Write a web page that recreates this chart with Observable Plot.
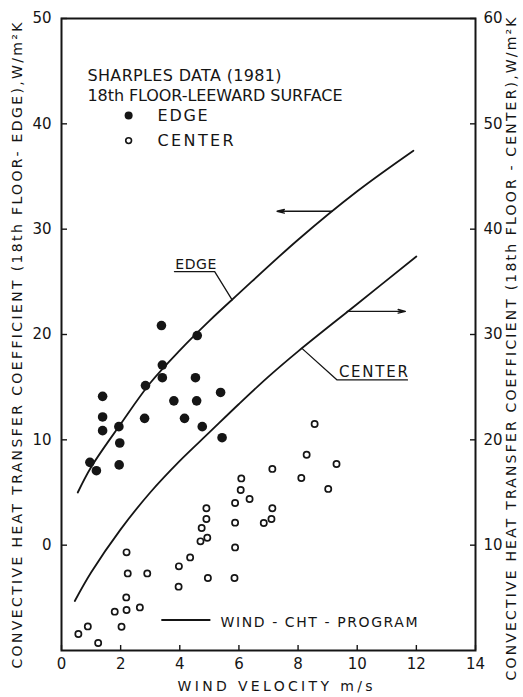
<!DOCTYPE html>
<html>
<head>
<meta charset="utf-8">
<script src="https://cdn.jsdelivr.net/npm/d3@7"></script>
<script src="https://cdn.jsdelivr.net/npm/@observablehq/plot@0.6"></script>
<style>
  html, body { margin: 0; padding: 0; background: #fff; }
</style>
</head>
<body>
<div id="chart"></div>
<script>
// ---------- data ----------
// Measured points, EDGE (left axis, W/m²K)
const edgeVelocity    = [3.38, 4.59, 3.41, 3.41, 2.84, 4.53, 1.39, 3.80, 4.57, 5.38, 1.39, 2.81, 4.16, 1.94, 1.39, 4.76, 1.97, 5.43, 0.96, 1.18, 1.95];
const edgeCoefficient = [20.85, 19.9, 17.1, 15.9, 15.15, 15.9, 14.13, 13.7, 13.7, 14.5, 12.17, 12.04, 12.04, 11.25, 10.87, 11.25, 9.7, 10.2, 7.86, 7.07, 7.62];

// Measured points, CENTER (right axis, W/m²K)
const centerVelocity    = [6.08, 6.06, 6.36, 5.87, 4.90, 4.90, 4.74, 4.93, 4.70, 5.87, 5.87, 4.35, 3.97, 4.95, 5.85, 3.96, 2.20, 2.24, 2.90, 2.19, 2.65, 2.20, 1.80, 2.03, 0.89, 0.57, 1.24, 8.56, 8.29, 9.30, 7.13, 8.11, 9.02, 7.13, 7.10, 6.84];
const centerCoefficient = [16.34, 15.24, 14.38, 14.0, 13.5, 12.49, 11.63, 10.71, 10.36, 12.14, 9.79, 8.84, 7.99, 6.89, 6.89, 6.06, 9.32, 7.32, 7.32, 5.04, 4.09, 3.85, 3.69, 2.26, 2.29, 1.57, 0.71, 21.51, 18.59, 17.71, 17.24, 16.38, 15.34, 13.5, 12.49, 12.11];

// WIND-CHT-PROGRAM curves
const edgeProgramVelocity    = [0.55, 1, 2, 3, 4, 5, 6, 8, 10, 11.9];
const edgeProgramCoefficient = [5.0, 7.4, 11.5, 15.4, 18.5, 21.3, 23.9, 29.0, 33.6, 37.45];
const centerProgramVelocity    = [0.45, 1, 2, 3, 4, 5, 6, 7, 8, 10, 12];
const centerProgramCoefficient = [4.7, 7.4, 11.5, 15.0, 18.0, 20.7, 23.4, 26.0, 28.4, 32.9, 37.4];

// Axes
const xTicks = [0, 2, 4, 6, 8, 10, 12, 14];
const leftTicks = [0, 10, 20, 30, 40, 50];
const rightTicks = [10, 20, 30, 40, 50, 60];
const rightAxisOffset = 10; // right axis value = left axis value + 10

// Texts
const xTitle = "WIND VELOCITY m/s";
const leftTitle = "CONVECTIVE HEAT TRANSFER COEFFICIENT (18th FLOOR- EDGE),W/m²K";
const rightTitle = "CONVECTIVE HEAT TRANSFER COEFFICIENT (18th FLOOR - CENTER),W/m²K";
const legendTitleLines = ["SHARPLES DATA (1981)", "18th FLOOR-LEEWARD SURFACE"];
const legendItems = ["EDGE", "CENTER"];
const programLabel = "WIND - CHT - PROGRAM";
const curveLabels = ["EDGE", "CENTER"];

// ---------- build ----------
const edgeData = edgeVelocity.map((v, i) => ({velocity: v, coefficient: edgeCoefficient[i]}));
const centerData = centerVelocity.map((v, i) => ({velocity: v, coefficient: centerCoefficient[i] - rightAxisOffset}));
const edgeCurve = edgeProgramVelocity.map((v, i) => ({velocity: v, coefficient: edgeProgramCoefficient[i]}));
const centerCurve = centerProgramVelocity.map((v, i) => ({velocity: v, coefficient: centerProgramCoefficient[i] - rightAxisOffset}));

const ink = "#151515";
const font = "DejaVu Sans";

const svg = Plot.plot({
  width: 523,
  height: 697,
  marginLeft: 61,
  marginRight: 48,
  marginTop: 18,
  marginBottom: 47,
  style: {fontFamily: font, fontSize: "15px", color: ink, background: "#fff", overflow: "visible"},
  x: {domain: [0, 14]},
  y: {domain: [-10, 50]},
  marks: [
    Plot.frame({stroke: ink, strokeWidth: 2}),
    Plot.axisX(xTicks, {anchor: "bottom", tickSize: -5, tickPadding: 13, strokeWidth: 1.4, label: null, fontSize: 15}),
    Plot.axisY(leftTicks, {anchor: "left", tickSize: -6, tickPadding: 16, strokeWidth: 1.4, label: null, fontSize: 15}),
    Plot.axisY(rightTicks.map(t => t - rightAxisOffset), {anchor: "right", tickSize: -6, tickPadding: 14, strokeWidth: 1.4, label: null, fontSize: 15, tickFormat: d => d + rightAxisOffset}),

    // axis titles
    Plot.text([xTitle], {text: d => d, frameAnchor: "bottom-left", textAnchor: "start", dx: 116, dy: 40, fontSize: 14, fill: ink}),
    Plot.text([leftTitle], {text: d => d, frameAnchor: "bottom-left", textAnchor: "start", rotate: -90, dx: -40, dy: 18, fontSize: 14, fill: ink}),
    Plot.text([rightTitle], {text: d => d, frameAnchor: "bottom-right", textAnchor: "start", rotate: -90, dx: 40, dy: 30, fontSize: 14, fill: ink}),

    // program curves
    Plot.line(edgeCurve, {x: "velocity", y: "coefficient", curve: "catmull-rom", stroke: ink, strokeWidth: 1.8}),
    Plot.line(centerCurve, {x: "velocity", y: "coefficient", curve: "catmull-rom", stroke: ink, strokeWidth: 1.8}),

    // measured data
    Plot.dot(edgeData, {x: "velocity", y: "coefficient", r: 4.8, fill: ink, stroke: "none"}),
    Plot.dot(centerData, {x: "velocity", y: "coefficient", r: 3.1, fill: "#fff", stroke: ink, strokeWidth: 1.7}),

    // arrows pointing to the axis each curve uses
    Plot.arrow([0], {x1: () => 9.15, y1: () => 31.7, x2: () => 7.29, y2: () => 31.7, stroke: ink, strokeWidth: 1.4, headLength: 8, headAngle: 28}),
    Plot.arrow([0], {x1: () => 9.66, y1: () => 22.2, x2: () => 11.63, y2: () => 22.2, stroke: ink, strokeWidth: 1.4, headLength: 8, headAngle: 28}),

    // curve labels with leaders
    Plot.line([[3.82, 25.97], [5.18, 25.97], [5.77, 23.29]], {stroke: ink, strokeWidth: 1.3}),
    Plot.line([[8.14, 18.66], [9.32, 15.69], [11.70, 15.69]], {stroke: ink, strokeWidth: 1.3}),
    Plot.text([curveLabels[0]], {text: d => d, x: () => 3.85, y: () => 25.97, dy: -3, textAnchor: "start", lineAnchor: "bottom", fontSize: 14, fill: ink}),
    Plot.text([curveLabels[1]], {text: d => d, x: () => 9.38, y: () => 15.69, dy: -3, textAnchor: "start", lineAnchor: "bottom", fontSize: 15, fill: ink}),

    // legend (top-left)
    Plot.text(legendTitleLines, {text: d => d, x: () => 0.88, y: (d, i) => 44.6 - 1.9 * i, textAnchor: "start", fontSize: 16, fill: ink}),
    Plot.dot([legendItems[0]], {x: () => 2.27, y: () => 40.79, r: 4, fill: ink}),
    Plot.dot([legendItems[1]], {x: () => 2.27, y: () => 38.41, r: 2.9, fill: "#fff", stroke: ink, strokeWidth: 1.6}),
    Plot.text(legendItems, {text: d => d, x: () => 3.25, y: (d, i) => 40.79 - 2.38 * i, textAnchor: "start", fontSize: 16, fill: ink}),

    // legend (bottom)
    Plot.line([[3.40, -7.1], [5.01, -7.1]], {stroke: ink, strokeWidth: 2}),
    Plot.text([programLabel], {text: d => d, x: () => 5.38, y: () => -7.3, textAnchor: "start", fontSize: 14, fill: ink})
  ]
});

// stretch the stencil lettering to the spacing of the original (lengths in order of appearance)
const lengthsByText = new Map([
  [xTitle, [195]], [leftTitle, [646]], [rightTitle, [663]], [programLabel, [197]],
  [legendTitleLines[0], [194]], [legendTitleLines[1], [255]],
  ["EDGE", [41, 50]], ["CENTER", [69, 76]]
]);
const seen = new Map();
d3.select(svg).selectAll("text").each(function() {
  const t = this.textContent;
  const L = lengthsByText.get(t);
  if (!L) return;
  const k = seen.get(t) || 0;
  seen.set(t, k + 1);
  if (L[k] != null) { this.setAttribute("textLength", L[k]); this.setAttribute("lengthAdjust", "spacing"); }
});
document.getElementById("chart").append(svg);
</script>
</body>
</html>
